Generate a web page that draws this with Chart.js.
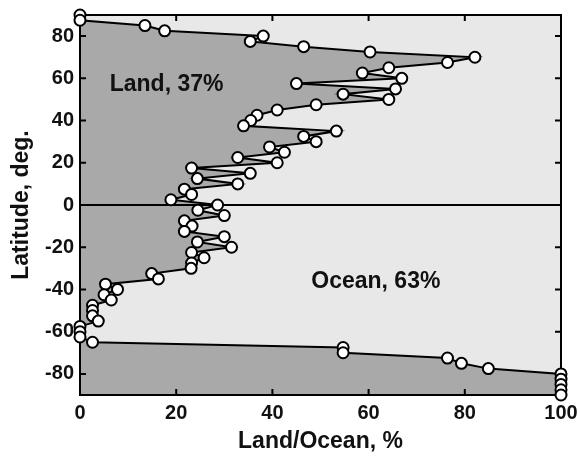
<!DOCTYPE html>
<html>
<head>
<meta charset="utf-8">
<script src="https://cdn.jsdelivr.net/npm/chart.js@4"></script>
<style>
  body { margin: 0; background: #fff; }
</style>
</head>
<body>
<canvas id="chart" width="580" height="458"></canvas>
<script>
// latitude bands, deg (north to south)
const latitudes = [90, 87.5, 85, 82.5, 80, 77.5, 75, 72.5, 70, 67.5, 65, 62.5, 60, 57.5, 55, 52.5, 50, 47.5, 45, 42.5, 40, 37.5, 35, 32.5, 30, 27.5, 25, 22.5, 20, 17.5, 15, 12.5, 10, 7.5, 5, 2.5, 0, -2.5, -5, -7.5, -10, -12.5, -15, -17.5, -20, -22.5, -25, -27.5, -30, -32.5, -35, -37.5, -40, -42.5, -45, -47.5, -50, -52.5, -55, -57.5, -60, -62.5, -65, -67.5, -70, -72.5, -75, -77.5, -80, -82.5, -85, -87.5, -90];
// land share of each band, %
const landShare = [0, 0, 13.5, 17.6, 38.1, 35.4, 46.5, 60.3, 82.1, 76.4, 64.2, 58.7, 66.9, 45, 65.6, 54.7, 64.2, 49.1, 41, 36.8, 35.5, 34, 53.3, 46.5, 49.1, 39.4, 42.5, 32.8, 41, 23.2, 35.4, 24.4, 32.8, 21.7, 23.2, 18.9, 28.6, 24.5, 30, 21.7, 23.3, 21.7, 30, 24.4, 31.5, 23.2, 25.8, 23.2, 23.1, 14.9, 16.3, 5.3, 7.8, 5, 6.5, 2.6, 2.6, 2.6, 3.8, 0, 0, 0, 2.6, 54.7, 54.7, 76.4, 79.3, 84.9, 100, 100, 100, 100, 100];
// axis ticks
const xTicks = [0, 20, 40, 60, 80, 100];
const yTicks = [-80, -60, -40, -20, 0, 20, 40, 60, 80];
// area labels
const areaNames = ['Land, 37%', 'Ocean, 63%'];

const points = latitudes.map((lat, i) => ({ x: landShare[i], y: lat }));
const font = '"Liberation Sans", Arial, Helvetica, sans-serif';

// frame and inward tick marks on all four sides
const framePlugin = {
	id: 'frame',
	beforeDatasetsDraw(chart) {
		const { ctx, chartArea: a, scales } = chart;
		ctx.save();
		ctx.strokeStyle = '#000';
		ctx.lineWidth = 2;
		ctx.strokeRect(a.left, a.top, a.right - a.left, a.bottom - a.top);
		ctx.beginPath();
		for (const v of xTicks) {
			const px = scales.x.getPixelForValue(v);
			ctx.moveTo(px, a.bottom); ctx.lineTo(px, a.bottom - 6);
			ctx.moveTo(px, a.top); ctx.lineTo(px, a.top + 6);
		}
		for (const v of yTicks) {
			const py = scales.y.getPixelForValue(v);
			ctx.moveTo(a.left, py); ctx.lineTo(a.left + 6, py);
			ctx.moveTo(a.right, py); ctx.lineTo(a.right - 6, py);
		}
		ctx.stroke();
		ctx.restore();
	}
};

// "Land" / "Ocean" text inside the plot
const labelPlugin = {
	id: 'areaLabels',
	afterDatasetsDraw(chart) {
		const { ctx, scales } = chart;
		const spots = [[18, 57], [61.5, -36.5]];
		ctx.save();
		ctx.font = 'bold 23px ' + font;
		ctx.fillStyle = '#111';
		ctx.textAlign = 'center';
		ctx.textBaseline = 'middle';
		areaNames.forEach((name, i) => {
			ctx.fillText(name, scales.x.getPixelForValue(spots[i][0]), scales.y.getPixelForValue(spots[i][1]));
		});
		ctx.restore();
	}
};

const tickFont = { family: font, size: 20, weight: 'bold' };
const titleFont = { family: font, size: 23, weight: 'bold' };

new Chart(document.getElementById('chart').getContext('2d'), {
	type: 'line',
	data: {
		datasets: [{
			label: 'Land',
			data: points,
			borderColor: '#000',
			borderWidth: 2,
			backgroundColor: '#a9a9a9',
			fill: { value: 0 },
			tension: 0,
			pointRadius: 5.5,
			pointBorderWidth: 2,
			pointBackgroundColor: '#fff',
			pointBorderColor: '#000',
			clip: false
		}, {
			label: 'Ocean',
			data: points,
			borderColor: 'rgba(0,0,0,0)',
			backgroundColor: '#e8e8e8',
			fill: { value: 100 },
			pointRadius: 0
		}]
	},
	options: {
		indexAxis: 'y',
		responsive: false,
		animation: false,
		layout: { padding: { top: 15, right: 19, left: 0, bottom: 0 } },
		plugins: {
			legend: { display: false },
			tooltip: { enabled: false },
			filler: { drawTime: 'beforeDraw' }
		},
		scales: {
			x: {
				type: 'linear',
				position: 'bottom',
				min: 0,
				max: 100,
				afterBuildTicks: (s) => { s.ticks = xTicks.map(v => ({ value: v })); },
				afterFit: (s) => { s.height = 63; s.paddingRight = 0; s.paddingLeft = 0; },
				grid: { display: false, drawTicks: false },
				border: { display: false },
				ticks: { color: '#111', font: tickFont, padding: 6 },
				title: { display: true, text: 'Land/Ocean, %', color: '#111', font: titleFont, padding: { top: 0, bottom: 3 } }
			},
			y: {
				type: 'linear',
				position: 'left',
				min: -90,
				max: 90,
				afterBuildTicks: (s) => { s.ticks = yTicks.map(v => ({ value: v })); },
				afterFit: (s) => { s.width = 80; s.paddingTop = 0; s.paddingBottom = 0; },
				grid: {
					drawTicks: false,
					lineWidth: 2,
					color: (c) => (c.tick && c.tick.value === 0 ? '#000' : 'rgba(0,0,0,0)')
				},
				border: { display: false },
				ticks: { color: '#111', font: tickFont, padding: 6 },
				title: { display: true, text: 'Latitude, deg.', color: '#111', font: titleFont, padding: { top: 8, bottom: 0 } }
			}
		}
	},
	plugins: [framePlugin, labelPlugin]
});
</script>
</body>
</html>
